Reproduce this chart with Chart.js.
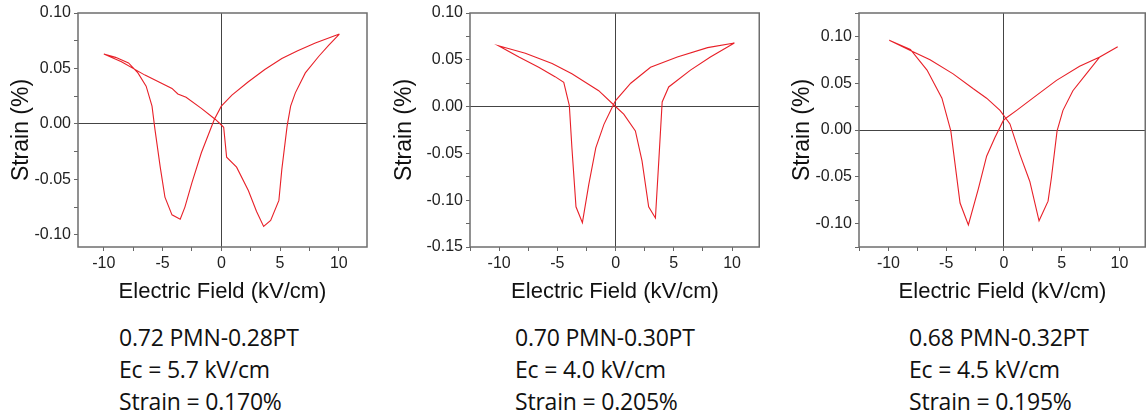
<!DOCTYPE html>
<html>
<head>
<meta charset="utf-8">
<script src="https://cdn.jsdelivr.net/npm/chart.js@4/dist/chart.umd.min.js"></script>
<style>
  body { margin: 0; background: #fff; width: 1146px; height: 416px; overflow: hidden; position: relative; }
  .panel { position: absolute; top: 0; }
  .note { position: absolute; font-family: "Open Sans", sans-serif; font-size: 23px; line-height: 32px; color: #111; white-space: nowrap; letter-spacing: -0.2px; }
</style>
</head>
<body>
<div class="panel" style="left:0"><canvas id="c1" width="380" height="305"></canvas></div>
<div class="panel" style="left:380px"><canvas id="c2" width="380" height="305"></canvas></div>
<div class="panel" style="left:760px"><canvas id="c3" width="386" height="305"></canvas></div>

<div class="note" style="left:119px; top:321px">0.72 PMN-0.28PT<br>Ec = 5.7 kV/cm<br>Strain = 0.170%</div>
<div class="note" style="left:515px; top:321px">0.70 PMN-0.30PT<br>Ec = 4.0 kV/cm<br>Strain = 0.205%</div>
<div class="note" style="left:909px; top:321px">0.68 PMN-0.32PT<br>Ec = 4.5 kV/cm<br>Strain = 0.195%</div>

<script>
// 0.72 PMN-0.28PT butterfly loop (field in kV/cm, strain in %)
const field1 = [10.05, 8.0, 6.5, 5.15, 3.7, 2.3, 0.9, 0.0, -0.6, -1.7, -2.5, -3.1, -3.5, -4.2, -4.8, -5.2, -5.65, -5.9, -6.4, -7.1, -7.9, -9.0, -10.0,
                -8.5, -6.5, -4.2, -3.7, -3.0, -1.7, -0.5, 0.0, 0.2, 0.45, 1.3, 2.3, 3.0, 3.6, 4.2, 4.9, 5.15, 5.6, 5.9, 6.3, 7.15, 8.3, 9.15, 10.05];
const strain1 = [0.081, 0.073, 0.066, 0.059, 0.049, 0.038, 0.026, 0.016, 0.004, -0.026, -0.053, -0.075, -0.086, -0.082, -0.066, -0.039, -0.005, 0.016, 0.034, 0.046, 0.055, 0.060, 0.063,
                 0.056, 0.044, 0.032, 0.027, 0.024, 0.014, 0.004, -0.001, -0.003, -0.030, -0.039, -0.060, -0.079, -0.0925, -0.087, -0.069, -0.041, -0.002, 0.016, 0.028, 0.046, 0.061, 0.071, 0.081];

// 0.70 PMN-0.30PT
const field2 = [10.2, 7.9, 5.3, 3.0, 1.3, 0.0, -0.3, -1.0, -1.7, -2.3, -2.85, -3.4, -3.75, -3.97, -4.45, -5.2, -6.6, -8.3, -10.05,
                -7.75, -5.45, -3.75, -2.6, -1.45, -0.17, 0.7, 1.7, 2.27, 2.84, 3.42, 3.71, 4.0, 4.56, 6.43, 8.14, 10.2];
const strain2 = [0.068, 0.063, 0.053, 0.042, 0.025, 0.0065, -0.001, -0.019, -0.044, -0.083, -0.124, -0.107, -0.044, 0.001, 0.026, 0.032, 0.042, 0.053, 0.065,
                 0.057, 0.046, 0.035, 0.026, 0.017, 0.002, -0.008, -0.026, -0.058, -0.107, -0.119, -0.058, 0.005, 0.021, 0.039, 0.053, 0.068];

// 0.68 PMN-0.32PT
const field3 = [9.85, 8.3, 6.55, 4.55, 2.5, 1.1, 0.1, -0.06, -0.78, -1.5, -2.2, -3.08, -3.8, -4.6, -5.37, -6.66, -8.1, -9.93,
                -8.1, -6.4, -4.4, -2.65, -1.5, -0.34, 0.52, 1.38, 2.24, 3.04, 3.82, 4.11, 4.6, 5.11, 5.97, 7.13, 8.3, 9.85];
const strain3 = [0.089, 0.078, 0.068, 0.053, 0.034, 0.021, 0.012, 0.010, -0.008, -0.028, -0.062, -0.1015, -0.078, -0.001, 0.034, 0.064, 0.086, 0.096,
                 0.085, 0.075, 0.060, 0.044, 0.034, 0.021, 0.0065, -0.026, -0.055, -0.097, -0.076, -0.051, -0.001, 0.021, 0.042, 0.060, 0.078, 0.089];

const xTitle = 'Electric Field (kV/cm)';
const yTitle = 'Strain (%)';
const fontFamily = "'Liberation Sans', Arial, sans-serif";

// box around the plot area
const framePlugin = {
    id: 'frame',
    afterDatasetsDraw(chart) {
        const { ctx, chartArea } = chart;
        const r = Math.min(chartArea.right, chart.width - 0.75);
        ctx.save();
        ctx.strokeStyle = '#6e6e6e';
        ctx.lineWidth = 1.5;
        ctx.strokeRect(chartArea.left, chartArea.top, r - chartArea.left, chartArea.bottom - chartArea.top);
        ctx.restore();
    }
};

function makeChart(id, field, strain, opts) {
    const ctx = document.getElementById(id).getContext('2d');
    return new Chart(ctx, {
        type: 'scatter',
        data: {
            datasets: [{
                data: field.map((x, i) => ({ x: x, y: strain[i] })),
                borderColor: 'rgb(232, 32, 40)',
                borderWidth: 1.1,
                pointRadius: 0,
                showLine: true,
                tension: 0
            }]
        },
        options: {
            responsive: false,
            animation: false,
            layout: { padding: { top: 13, right: opts.padRight, left: 0, bottom: 0 } },
            plugins: { legend: { display: false }, tooltip: { enabled: false } },
            scales: {
                x: {
                    type: 'linear',
                    min: opts.xMin,
                    max: opts.xMax,
                    afterFit: (s) => { s.height = 58; },
                    border: { display: false },
                    grid: {
                        color: (c) => c.tick && c.tick.value === 0 ? '#444' : 'rgba(0,0,0,0)',
                        lineWidth: 1,
                        tickColor: '#666',
                        tickLength: 4
                    },
                    ticks: {
                        stepSize: 2.5,
                        includeBounds: false,
                        autoSkip: false,
                        maxRotation: 0,
                        padding: 3,
                        color: '#222',
                        font: { family: fontFamily, size: 16 },
                        callback: (v) => Math.abs(v % 5) < 1e-9 ? String(v) : ''
                    },
                    title: {
                        display: true,
                        text: xTitle,
                        color: '#111',
                        padding: { top: 0, bottom: 0 },
                        font: { family: fontFamily, size: 22 }
                    }
                },
                y: {
                    type: 'linear',
                    min: opts.yMin,
                    max: opts.yMax,
                    afterFit: (s) => { s.width = opts.yWidth; },
                    border: { display: false },
                    grid: {
                        color: (c) => c.tick && Math.abs(c.tick.value) < 1e-9 ? '#444' : 'rgba(0,0,0,0)',
                        lineWidth: 1,
                        tickColor: '#666',
                        tickLength: 4
                    },
                    ticks: {
                        stepSize: 0.025,
                        includeBounds: false,
                        autoSkip: false,
                        padding: 3,
                        color: '#222',
                        font: { family: fontFamily, size: 16 },
                        callback: (v) => Math.abs(Math.round(v / 0.05) * 0.05 - v) < 1e-9 ? v.toFixed(2) : ''
                    },
                    title: {
                        display: true,
                        text: yTitle,
                        color: '#111',
                        padding: { top: opts.yTitlePad, bottom: 0 },
                        font: { family: fontFamily, size: 23 }
                    }
                }
            }
        },
        plugins: [framePlugin]
    });
}

makeChart('c1', field1, strain1, { xMin: -12.2, xMax: 12.4, yMin: -0.111, yMax: 0.10, yWidth: 78, padRight: 13, yTitlePad: 8 });
makeChart('c2', field2, strain2, { xMin: -12.5, xMax: 12.4, yMin: -0.15, yMax: 0.10, yWidth: 90, padRight: 0, yTitlePad: 11 });
makeChart('c3', field3, strain3, { xMin: -12.55, xMax: 12.3, yMin: -0.125, yMax: 0.125, yWidth: 99, padRight: 0, yTitlePad: 29 });
</script>
</body>
</html>
